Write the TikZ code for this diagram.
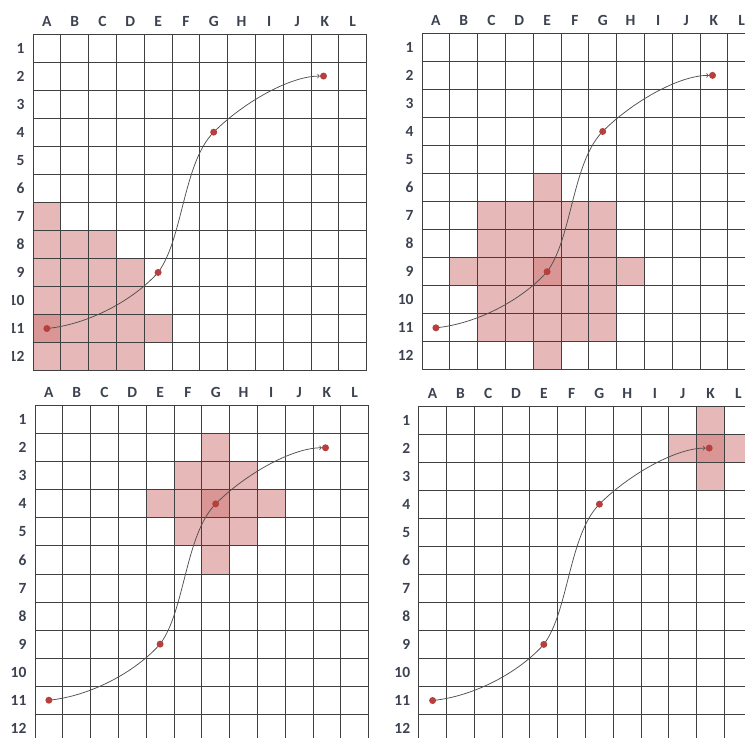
\documentclass[tikz,border=0pt]{standalone}
\usepackage{fontspec}
\setmainfont{Carlito}
\definecolor{cellpink}{HTML}{E6B8B7}
\definecolor{cellred}{HTML}{DA9694}
\definecolor{dotred}{HTML}{B5403D}
\definecolor{gridgray}{HTML}{404040}
\definecolor{labelgray}{HTML}{3C4250}
\definecolor{curvegray}{HTML}{505050}
\pgfdeclarelayer{front}
\pgfsetlayers{main,front}

\tikzset{
  gridline/.style={draw=gridgray, line width=0.95pt},
  hitdot/.style={circle, fill=dotred, inner sep=0pt, minimum size=7pt},
  axislabel/.style={text=labelgray, font=\bfseries\fontsize{15.5}{17}\selectfont, inner sep=0pt},
  routeline/.style={draw=curvegray, line width=0.75pt, ->}
}

% one 12x12 panel, shaded disc round column #1, row #2, radius #3
\newcommand{\searchgrid}[3]{
  \foreach \cc in {1,...,12} {
    \foreach \rr in {1,...,12} {
      \pgfmathtruncatemacro{\dd}{(\cc-#1)^2+(\rr-#2)^2}
      \ifnum\dd>\numexpr#3*#3\relax\else
        \fill[cellpink] (\cc-1,\rr-1) rectangle (\cc,\rr);
      \fi
    }
  }
  \fill[cellred] (#1-1,#2-1) rectangle (#1,#2);
  \foreach \i in {0,...,12} {
    \draw[gridline] (\i,0) -- (\i,12);
    \draw[gridline] (0,\i) -- (12,\i);
  }
  \foreach \l [count=\n] in {A,B,C,D,E,F,G,H,I,J,K,L} {
    \node[axislabel, anchor=base] (col\l) at (\n-0.5,-0.28) {\l};
  }
  \foreach \n in {1,...,12} {
    \node[axislabel, anchor=base east] (row\n) at (-0.3,\n-0.32) {\n};
  }
  \begin{pgfonlayer}{front}
    \node[hitdot] (a11) at (0.5,10.5) {};
    \node[hitdot] (e9) at (4.5,8.5) {};
    \node[hitdot] (g4) at (6.5,3.5) {};
    \node[hitdot] (k2) at (10.45,1.5) {};
  \end{pgfonlayer}
  \draw[routeline] (a11.center) .. controls (2,10.35) and (3.6,9.5) .. (e9.center)
    .. controls (5.4,7.3) and (5.4,4.6) .. (g4.center)
    .. controls (7.5,2.5) and (9.2,1.5) .. (k2.west);
}

\begin{document}
\begin{tikzpicture}[x=27.8pt, y=-28.05pt]
  \useasboundingbox (0pt,0pt) rectangle (745pt,-738pt);
  \clip (0pt,0pt) rectangle (745pt,-738pt);
  \begin{scope}
    \clip (12.5pt,0pt) rectangle (380pt,-376pt);
    \begin{scope}[shift={(33pt,-34pt)}]
      \searchgrid{1}{11}{4}
    \end{scope}
  \end{scope}
  \begin{scope}[shift={(422pt,-33.3pt)}]
    \searchgrid{5}{9}{3}
  \end{scope}
  \begin{scope}[shift={(35pt,-405.7pt)}]
    \searchgrid{7}{4}{2}
  \end{scope}
  \begin{scope}[shift={(418.7pt,-406pt)}]
    \searchgrid{11}{2}{1}
  \end{scope}
\end{tikzpicture}
\end{document}
